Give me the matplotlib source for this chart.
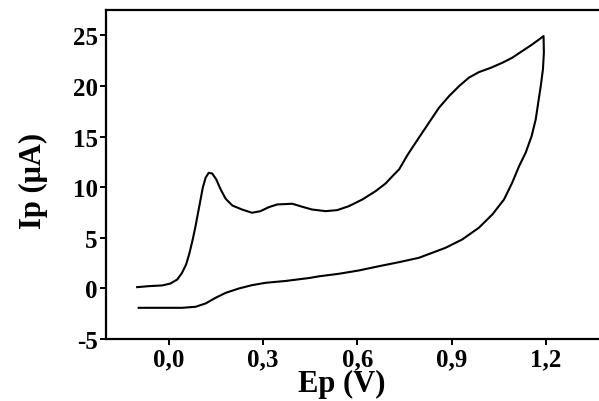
import matplotlib
matplotlib.use("Agg")
from matplotlib import pyplot as plt
from matplotlib.ticker import FuncFormatter

# forward (anodic) scan
ep_fwd = [-0.101, -0.064, -0.021, 0.005, 0.027, 0.042, 0.055, 0.066, 0.076, 0.085,
          0.093, 0.101, 0.108, 0.117, 0.127, 0.138, 0.151, 0.165, 0.181, 0.202,
          0.233, 0.265, 0.292, 0.318, 0.345, 0.393, 0.425, 0.456, 0.499, 0.536,
          0.573, 0.616, 0.658, 0.690, 0.717, 0.733, 0.760, 0.796, 0.828, 0.860,
          0.892, 0.924, 0.955, 0.987, 1.025, 1.062, 1.093, 1.125, 1.157, 1.193]
ip_fwd = [0.13, 0.23, 0.30, 0.49, 0.89, 1.55, 2.37, 3.53, 4.84, 6.16,
          7.48, 8.79, 9.95, 10.94, 11.43, 11.36, 10.77, 9.78, 8.86, 8.20,
          7.80, 7.48, 7.64, 8.03, 8.30, 8.37, 8.07, 7.80, 7.64, 7.74,
          8.13, 8.79, 9.61, 10.37, 11.26, 11.76, 13.2, 14.89, 16.37, 17.85,
          19.00, 19.99, 20.82, 21.37, 21.80, 22.30, 22.79, 23.45, 24.11, 24.93]

# reverse (cathodic) scan
ep_rev = [1.194, 1.191, 1.184, 1.176, 1.168, 1.155, 1.136, 1.115, 1.093, 1.067,
          1.030, 0.987, 0.934, 0.881, 0.839, 0.796, 0.733, 0.669, 0.605, 0.541,
          0.478, 0.446, 0.371, 0.308, 0.265, 0.223, 0.181, 0.149, 0.117, 0.085,
          0.042, -0.021, -0.096]
ip_rev = [23.29, 21.64, 19.99, 18.35, 16.70, 15.05, 13.41, 12.08, 10.44, 8.79,
          7.31, 6.00, 4.84, 4.02, 3.53, 3.03, 2.60, 2.20, 1.78, 1.45,
          1.20, 1.03, 0.74, 0.56, 0.33, 0.00, -0.43, -0.92, -1.48, -1.81,
          -1.91, -1.91, -1.91]

xticks = [0.0, 0.3, 0.6, 0.9, 1.2]
yticks = [-5, 0, 5, 10, 15, 20, 25]

plt.rcParams['font.family'] = ['Liberation Serif', 'DejaVu Serif']
plt.rcParams['font.weight'] = 'bold'

fig = plt.figure(figsize=(5.99, 4.02), dpi=100)
ax = fig.add_axes([0.177, 0.154, 0.839, 0.8184])

ax.plot(ep_fwd + ep_rev, ip_fwd + ip_rev, color='black', linewidth=1.5,
        solid_joinstyle='round')

ax.set_xlim(-0.2, 1.4)
ax.set_ylim(-5, 27.5)
ax.set_xticks(xticks)
ax.set_yticks(yticks)
ax.xaxis.set_major_formatter(FuncFormatter(lambda v, p: f"{v:.1f}".replace('.', ',')))
ax.yaxis.set_major_formatter(FuncFormatter(lambda v, p: f"{v:.0f}"))

for s in ax.spines.values():
    s.set_linewidth(1.6)

ax.tick_params(direction='out', length=4, width=1.4, labelsize=18, pad=2,
               top=False, right=False)
for lab in ax.get_xticklabels() + ax.get_yticklabels():
    lab.set_fontweight('bold')

ax.set_xlabel("Ep (V)", fontsize=22, fontweight='bold')
ax.set_ylabel("Ip (μA)", fontsize=22, fontweight='bold')
ax.xaxis.set_label_coords(0.47, -0.092)
ax.yaxis.set_label_coords(-0.115, 0.483)

fig.savefig("out.png", dpi=100)
